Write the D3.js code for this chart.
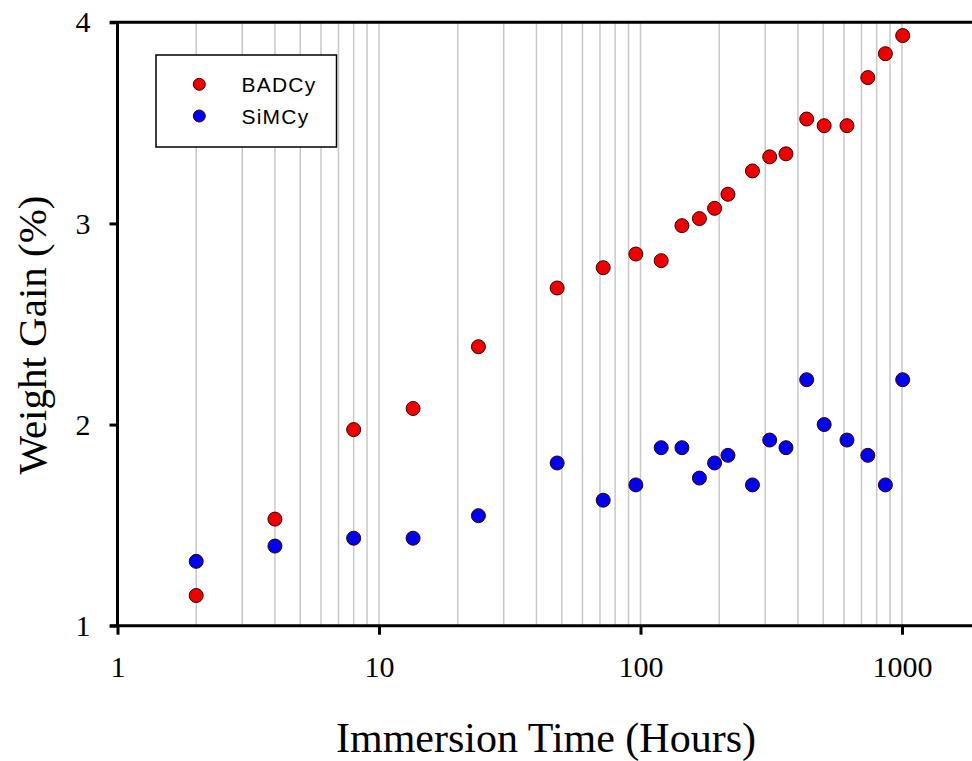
<!DOCTYPE html>
<html>
<head>
<meta charset="utf-8">
<script src="https://cdn.jsdelivr.net/npm/d3@7"></script>
<style>
  html, body { margin: 0; padding: 0; background: #fff; }
  svg { display: block; }
</style>
</head>
<body>
<svg id="chart" width="972" height="761"></svg>
<script>
// ---- data ----
const hours = [2, 4, 8, 13.5, 24, 48, 72, 96, 120, 144, 168, 192, 216, 268, 312, 360, 432, 504, 616, 740, 864, 1006];
const badcy = [1.15, 1.53, 1.975, 2.08, 2.387, 2.679, 2.78, 2.848, 2.815, 2.989, 3.024, 3.075, 3.145, 3.261, 3.331, 3.346, 3.519, 3.486, 3.486, 3.725, 3.844, 3.934];
const simcy = [1.32, 1.396, 1.435, 1.435, 1.547, 1.809, 1.624, 1.70, 1.885, 1.885, 1.734, 1.809, 1.847, 1.70, 1.923, 1.885, 2.223, 2.0, 1.923, 1.847, 1.70, 2.223];
const xTicks = [1, 10, 100, 1000];
const xTickLabels = ["1", "10", "100", "1000"];
const yTicks = [1, 2, 3, 4];
const gridValues = [2,3,4,5,6,7,8,9,10,20,30,40,50,60,70,80,90,100,200,300,400,500,600,700,800,900,1000];
const seriesNames = ["BADCy", "SiMCy"];
const seriesColors = ["#ee0000", "#0000ee"];
const xTitle = "Immersion Time (Hours)";
const yTitle = "Weight Gain (%)";

// ---- layout ----
const x0 = 117.5, dec = 261.5;
const yBottom = 625.7, yTop = 22.3;
const svg = d3.select("#chart");

const x = d3.scaleLog().domain([1, 2000]).range([x0, x0 + dec * Math.log10(2000)]);
const y = d3.scaleLinear().domain([1, 4]).range([yBottom, yTop]);

// grid lines
svg.append("g").selectAll("line").data(gridValues).join("line")
  .attr("x1", d => x(d)).attr("x2", d => x(d))
  .attr("y1", yTop).attr("y2", yBottom)
  .attr("stroke", "#c8c8c8").attr("stroke-width", 1.5);

// x axis
const xAxis = d3.axisBottom(x).tickValues(xTicks)
  .tickFormat((d, i) => xTickLabels[i]).tickSize(9).tickSizeOuter(0).tickPadding(21);
const gx = svg.append("g").attr("transform", `translate(0,${yBottom})`).call(xAxis);
gx.select(".domain").remove();
gx.selectAll(".tick line").attr("stroke", "#000").attr("stroke-width", 3);
gx.selectAll(".tick text").attr("font-family", "'Liberation Serif', 'Times New Roman', serif")
  .attr("font-size", 30).attr("fill", "#000");

// y axis
const yAxis = d3.axisLeft(y).tickValues(yTicks).tickFormat(d3.format("d"))
  .tickSize(8).tickSizeOuter(0).tickPadding(19);
const gy = svg.append("g").attr("transform", `translate(${x0},0)`).call(yAxis);
gy.select(".domain").remove();
gy.selectAll(".tick line").attr("stroke", "#000").attr("stroke-width", 3);
gy.selectAll(".tick text").attr("font-family", "'Liberation Serif', 'Times New Roman', serif")
  .attr("font-size", 30).attr("fill", "#000");

// frame lines
svg.append("line").attr("x1", 110).attr("x2", 972).attr("y1", yBottom).attr("y2", yBottom)
  .attr("stroke", "#000").attr("stroke-width", 3);
svg.append("line").attr("x1", 110).attr("x2", 972).attr("y1", yTop).attr("y2", yTop)
  .attr("stroke", "#000").attr("stroke-width", 3);
svg.append("line").attr("x1", x0).attr("x2", x0).attr("y1", yTop).attr("y2", yBottom)
  .attr("stroke", "#000").attr("stroke-width", 3);

// points
const series = [badcy, simcy];
series.forEach((vals, si) => {
  svg.append("g").selectAll("circle").data(hours.map((h, i) => [h, vals[i]])).join("circle")
    .attr("cx", d => x(d[0])).attr("cy", d => y(d[1])).attr("r", 7)
    .attr("fill", seriesColors[si]).attr("stroke", "#300").attr("stroke-width", 1);
});

// legend
const lg = svg.append("g");
lg.append("rect").attr("x", 156).attr("y", 55).attr("width", 180.5).attr("height", 92)
  .attr("fill", "#fff").attr("stroke", "#000").attr("stroke-width", 1.5);
seriesNames.forEach((name, i) => {
  const cy = 84.3 + i * 31.7;
  lg.append("circle").attr("cx", 199.3).attr("cy", cy).attr("r", 6)
    .attr("fill", seriesColors[i]).attr("stroke", "#300").attr("stroke-width", 1);
  lg.append("text").attr("x", 241.5).attr("y", cy + 8)
    .attr("font-family", "'Liberation Sans', Arial, sans-serif").attr("font-size", 21)
    .attr("letter-spacing", 1.2).attr("fill", "#000").text(name);
});

// titles
svg.append("text").attr("x", (757 + 335) / 2).attr("y", 752)
  .attr("text-anchor", "middle")
  .attr("font-family", "'Liberation Serif', 'Times New Roman', serif").attr("font-size", 42)
  .attr("fill", "#000").text(xTitle);
svg.append("text").attr("transform", "translate(46,335) rotate(-90)")
  .attr("text-anchor", "middle")
  .attr("font-family", "'Liberation Serif', 'Times New Roman', serif").attr("font-size", 41)
  .attr("fill", "#000").text(yTitle);
</script>
</body>
</html>
